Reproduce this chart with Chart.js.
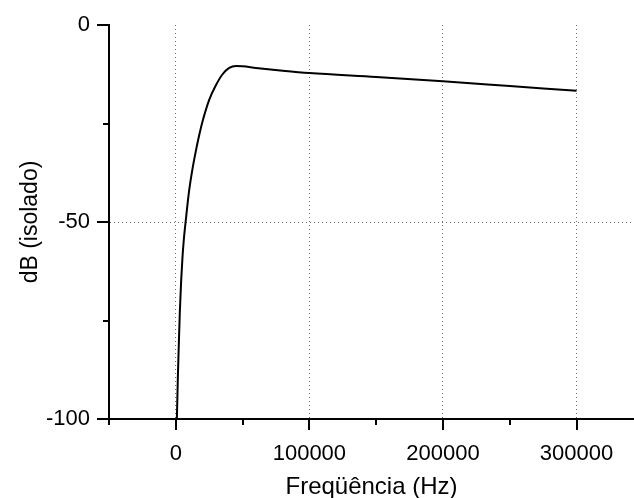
<!DOCTYPE html>
<html>
<head>
<meta charset="utf-8">
<script src="https://cdn.jsdelivr.net/npm/chart.js@4/dist/chart.umd.min.js"></script>
<style>
  html, body { margin: 0; padding: 0; background: #fff; }
  #wrap { width: 634px; height: 498px; }
</style>
</head>
<body>
<div id="wrap"><canvas id="chartResposta" width="634" height="498"></canvas></div>
<script>
// Resposta em frequência (isolado)
const freqHz = [800, 1500, 2000, 3000, 4000, 5000, 6000, 7500, 10000, 12500, 15000, 17500, 20000,
                25000, 30000, 35000, 40000, 45000, 50000, 60000, 80000, 100000, 150000, 200000, 250000, 300000];
const dbIsolado = [-100, -90, -84, -73, -65, -59, -54.5, -49.5, -42, -36.5, -32, -28, -24.5,
                   -19, -15.3, -12.5, -10.9, -10.4, -10.5, -10.9, -11.6, -12.2, -13.2, -14.3, -15.5, -16.7];
const xTickValues = [-50000, 0, 50000, 100000, 150000, 200000, 250000, 300000];
const yTickValues = [-100, -75, -50, -25, 0];
const xLimits = [-50000, 343000];
const yLimits = [-100, 0];
const xMajor = 100000;
const yMajor = 50;

(function() {
    'use strict';

    const fontFamily = "Arial, 'Liberation Sans', sans-serif";
    const gridGray = '#6e6e6e';
    const isMult = (v, step) => Math.abs(v / step - Math.round(v / step)) < 1e-6;

    // marcas dos eixos (maiores e menores) desenhadas a partir das escalas
    const tickMarks = {
        id: 'tickMarks',
        afterDraw(chart) {
            const { ctx, chartArea, scales } = chart;
            ctx.save();
            ctx.strokeStyle = '#000';
            ctx.lineWidth = 2;
            ctx.beginPath();
            scales.x.ticks.forEach(t => {
                const px = Math.round(scales.x.getPixelForValue(t.value));
                const len = isMult(t.value, xMajor) ? 11 : 6;
                ctx.moveTo(px, chartArea.bottom);
                ctx.lineTo(px, chartArea.bottom + len);
            });
            scales.y.ticks.forEach(t => {
                const py = Math.round(scales.y.getPixelForValue(t.value));
                const len = isMult(t.value, yMajor) ? 12 : 6;
                ctx.moveTo(chartArea.left, py);
                ctx.lineTo(chartArea.left - len, py);
            });
            ctx.stroke();
            ctx.restore();
        }
    };

    new Chart(document.getElementById('chartResposta'), {
        type: 'scatter',
        data: {
            datasets: [{
                data: freqHz.map((f, i) => ({ x: f, y: dbIsolado[i] })),
                showLine: true,
                borderColor: '#000',
                borderWidth: 2,
                pointRadius: 0,
                cubicInterpolationMode: 'monotone'
            }]
        },
        options: {
            responsive: false,
            animation: false,
            layout: { padding: { top: 25, right: 0, left: 0, bottom: 0 } },
            plugins: { legend: { display: false }, tooltip: { enabled: false } },
            scales: {
                x: {
                    type: 'linear',
                    min: xLimits[0], max: xLimits[1],
                    afterBuildTicks: s => { s.ticks = xTickValues.map(v => ({ value: v })); },
                    afterFit: s => { s.height = 79; s.paddingLeft = 0; s.paddingRight = 0; },
                    ticks: {
                        autoSkip: false,
                        maxRotation: 0,
                        padding: 22,
                        color: '#000',
                        font: { family: fontFamily, size: 22 },
                        callback: v => (isMult(v, xMajor) ? String(v) : '')
                    },
                    grid: {
                        drawTicks: false,
                        lineWidth: 1,
                        color: c => (c.tick && isMult(c.tick.value, xMajor) ? gridGray : 'transparent')
                    },
                    border: { display: true, color: '#000', width: 2, dash: [1, 3] },
                    title: {
                        display: true,
                        text: 'Freqüência (Hz)',
                        color: '#000',
                        font: { family: fontFamily, size: 24 },
                        padding: { top: 0, bottom: -4 }
                    }
                },
                y: {
                    min: yLimits[0], max: yLimits[1],
                    afterBuildTicks: s => { s.ticks = yTickValues.map(v => ({ value: v })); },
                    afterFit: s => { s.width = 109; s.paddingTop = 0; s.paddingBottom = 0; },
                    ticks: {
                        autoSkip: false,
                        padding: 19,
                        color: '#000',
                        font: { family: fontFamily, size: 22 },
                        callback: v => (isMult(v, yMajor) ? String(v) : '')
                    },
                    grid: {
                        drawTicks: false,
                        lineWidth: 1,
                        color: c => (c.tick && c.tick.value === -50 ? gridGray : 'transparent')
                    },
                    border: { display: true, color: '#000', width: 2, dash: [1, 3] },
                    title: {
                        display: true,
                        text: 'dB (isolado)',
                        color: '#000',
                        font: { family: fontFamily, size: 23 },
                        padding: { top: 17, bottom: 0 }
                    }
                }
            }
        },
        plugins: [tickMarks]
    });
})();
</script>
</body>
</html>
